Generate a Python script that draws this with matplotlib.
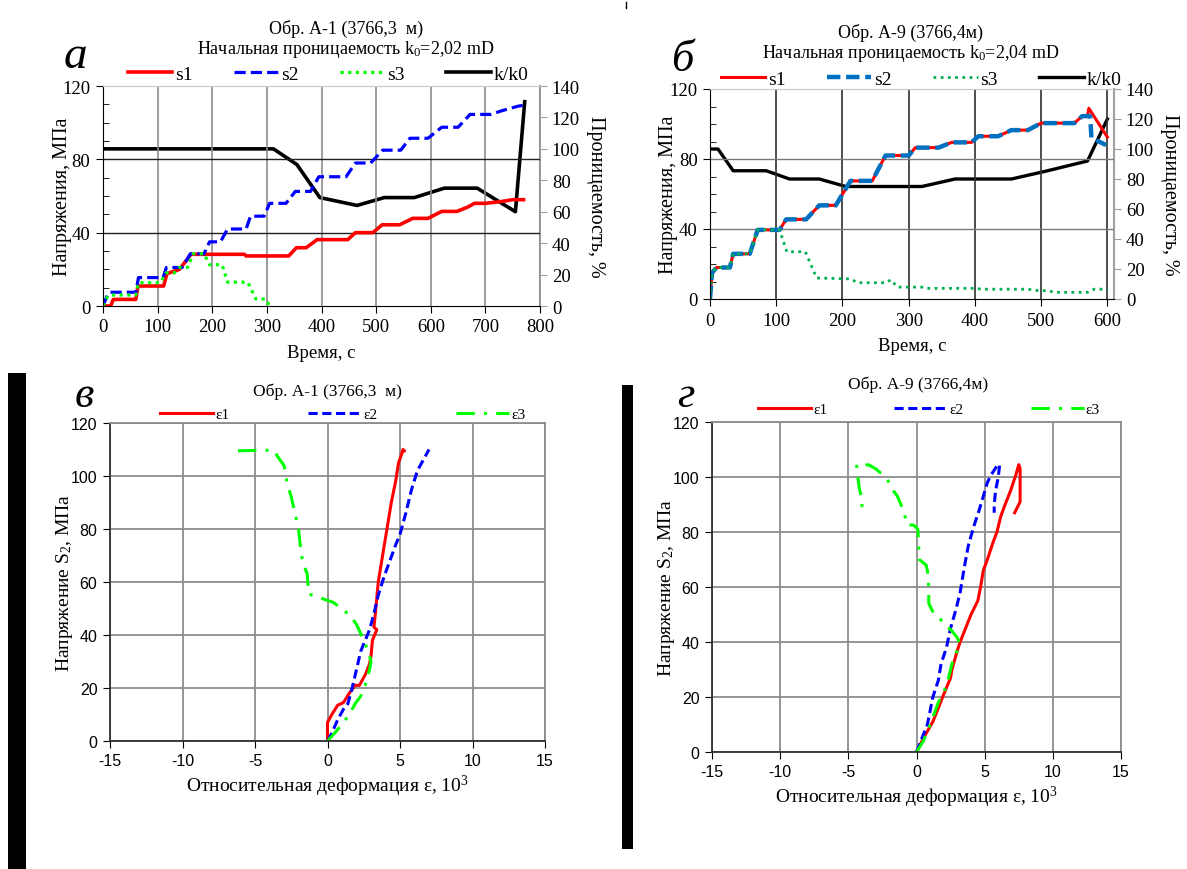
import matplotlib
matplotlib.use("Agg")
import matplotlib.pyplot as plt
from matplotlib.lines import Line2D
from matplotlib.patches import Rectangle
from matplotlib.ticker import MultipleLocator

plt.rcParams["font.family"] = ["Liberation Serif", "DejaVu Serif"]
plt.rcParams["mathtext.fontset"] = "custom"
plt.rcParams["mathtext.rm"] = "Liberation Serif"
plt.rcParams["mathtext.it"] = "Liberation Serif:italic"
plt.rcParams["axes.unicode_minus"] = False

W, H = 1187, 870

# --- panel a: sample A-1, stresses and permeability vs time ---
a_t_s1 = [0, 14, 19, 60, 64, 111, 117, 140, 161, 259, 262, 340, 354, 372, 392, 448, 462, 494,
          511, 543, 567, 595, 620, 648, 668, 680, 700, 730, 750, 770]
a_s1 = [0, 0, 3.6, 3.6, 10.9, 10.9, 17.6, 20, 28.2, 28.2, 27.3, 27.3, 31.8, 31.8, 36.2, 36.2, 40, 40,
        44.3, 44.3, 47.8, 47.8, 51.6, 51.6, 54, 56, 56, 57, 58, 58]
a_t_s2 = [0, 8, 12, 60, 65, 110, 116, 145, 160, 185, 195, 215, 228, 262, 270, 295, 305, 335, 352,
          380, 395, 445, 462, 490, 512, 545, 562, 595, 620, 650, 672, 710, 730, 760, 770]
a_s2 = [0, 6, 7.5, 7.5, 15.5, 15.5, 21, 21, 28.5, 28.5, 35, 35, 42, 42, 49, 49, 56, 56, 62.5,
        62.5, 70.5, 70.5, 78, 78, 85, 85, 91.5, 91.5, 97.5, 97.5, 104.5, 104.5, 106.5, 109, 109.5]
a_t_s3 = [0, 8, 12, 60, 65, 105, 115, 130, 140, 155, 165, 185, 195, 218, 228, 265, 280, 298, 305]
a_s3 = [0, 5, 6, 6, 12.7, 12.7, 18, 18, 21, 21, 28.5, 28.5, 22.5, 22.5, 13, 13, 3.8, 3.8, 0]
a_t_k = [0, 312, 355, 397, 465, 515, 570, 625, 685, 755, 772]
a_k = [100, 100, 90, 69, 64, 69, 69, 75, 75, 60, 130]

# --- panel b: sample A-9 ---
b_t_s = [0, 3, 10, 30, 35, 60, 72, 105, 115, 145, 165, 190, 197, 205, 212, 245, 265, 300, 310,
         345, 365, 395, 405, 435, 455, 480, 500, 550, 562, 570]
b_s = [0, 15, 18, 18, 25.8, 25.8, 39.5, 39.5, 45.5, 45.5, 53.5, 53.5, 58, 63, 67.5, 67.5, 82, 82,
       86.5, 86.5, 89.5, 89.5, 93, 93, 96.5, 96.5, 100.5, 100.5, 104.5, 104.5]
b_t_s1_end = [572, 600]
b_s1_end = [109, 92.5]
b_t_s2_end = [574, 576, 598]
b_s2_end = [104.5, 92, 88]
b_t_s3 = [0, 3, 10, 30, 35, 60, 72, 105, 116, 144, 161, 212, 223, 266, 273, 283, 320, 325, 400,
          410, 480, 495, 510, 520, 570, 580, 600]
b_s3 = [0, 15, 18, 18, 25.8, 25.8, 39.5, 39.5, 27, 27, 12, 11.5, 9.3, 9.3, 11, 6.8, 6.8, 6.1, 6.1,
        5.6, 5.6, 4.8, 4.8, 3.8, 3.8, 5.6, 5.6]
b_t_k = [0, 12, 35, 85, 120, 165, 205, 320, 370, 455, 505, 570, 600]
b_k = [100, 100, 85.5, 85.5, 80, 80, 75, 75, 80, 80, 85, 92, 120]

# --- panel v: A-1 strains ---
v_e1 = [0, 0, 0.3, 0.7, 1.1, 1.5, 1.9, 2.2, 2.6, 2.9, 3.0, 3.1, 3.4, 3.2, 3.3, 3.5, 3.8, 4.1,
        4.4, 4.7, 4.9, 5.1, 5.2, 5.3]
v_s1 = [0, 7, 10, 13.5, 14.5, 18, 21, 21, 25, 29, 32, 38, 42, 43, 48, 60, 70, 80, 90, 98, 105,
        108, 110, 109.5]
v_e2 = [0, 0.3, 0.7, 1.1, 1.4, 1.7, 2.0, 2.3, 2.6, 2.9, 3.2, 3.5, 3.9, 4.3, 4.7, 5.0, 5.4, 5.8,
        6.2, 6.6, 7.0]
v_s2 = [0, 3, 8, 12, 14, 20, 27, 34, 38, 42, 48, 55, 62, 68, 74, 78, 86, 95, 102, 106, 110]
v_e3 = [0, 0.5, 1.1, 1.5, 1.9, 2.3, 2.6, 2.9, 3.0, 2.8, 2.5, 2.0, 1.6, 1.2, 0.4, -0.5, -1.3,
        -1.4, -1.6, -1.8, -2.0, -2.2, -2.5, -2.8, -3.0, -3.4, -3.7, -4.6, -6.2]
v_s3 = [0, 3, 7, 10, 14, 17, 21, 27, 30, 34, 38, 44, 47, 49, 52.3, 54, 55.5, 63, 66, 70, 80, 85,
        92, 98, 104, 107, 109.7, 109.7, 109.5]

# --- panel g: A-9 strains ---
g_e1 = [0, 0.5, 1.2, 1.6, 2.0, 2.5, 2.6, 3.0, 3.2, 3.6, 4.0, 4.5, 4.7, 4.9, 5.2, 5.6, 5.9, 6.2,
        6.5, 6.9, 7.3, 7.5, 7.6, 7.6, 7.2]
g_s1 = [0, 5, 11, 16, 21, 27, 30, 37, 40, 45, 50, 55, 60, 66, 70, 76, 80, 86, 90, 95, 101, 104.5,
        103, 91, 87]
g_e2 = [0, 0.4, 0.8, 1.2, 1.6, 1.8, 2.2, 2.5, 2.9, 3.2, 3.5, 3.8, 4.2, 4.6, 4.9, 5.2, 5.5, 5.9,
        6.1, 6.0, 5.8, 5.7, 5.7]
g_s2 = [0, 5, 10, 20, 26, 32, 38, 45, 52, 58, 67, 75, 82, 88, 93, 98, 101, 104, 104.5, 100, 95,
        90, 87]
g_e3 = [0, 0.5, 1.0, 1.3, 1.6, 1.9, 2.2, 2.4, 2.6, 2.9, 3.2, 3.0, 2.6, 2.2, 1.8, 1.2, 0.9, 0.9,
        0.8, 0.7, 0.2, 0.15, 0.1, -0.2, -0.7, -0.8, -1.0, -1.1, -1.4, -1.7, -2.0, -2.4, -3.0,
        -3.5, -4.1, -4.4, -4.3, -4.2, -4.0, -4.0]
g_s3 = [0, 4, 10, 14, 18, 21, 24, 28, 32, 36, 39, 41.5, 44, 46, 48, 51, 54, 60, 66, 68, 70, 76,
        81, 82.5, 82.6, 85, 88, 89.5, 93, 95, 98, 100.5, 103, 104.4, 104.5, 104.5, 100, 96, 92, 89]


def rect(left, top, right, bottom):
    return [left / W, 1 - bottom / H, (right - left) / W, (bottom - top) / H]


def fx(px):
    return px / W


def fy(py):
    return 1 - py / H


def time_panel(fig, box, xmax, xtick_max, vgrid_color, hgrid_color):
    ax = fig.add_axes(box)
    ax.set_xlim(0, xmax)
    ax.set_ylim(0, 120)
    ax.set_xticks(range(0, xtick_max + 1, 100))
    ax.yaxis.set_major_locator(MultipleLocator(40))
    ax.yaxis.set_minor_locator(MultipleLocator(10))
    ax.tick_params(axis="both", which="major", labelsize=13.5, direction="out", length=5, pad=4)
    ax.tick_params(axis="y", which="minor", direction="in", length=4)
    for v in range(100, xtick_max + 1, 100):
        ax.axvline(v, color=vgrid_color, lw=1.2, zorder=0)
    for v in (40, 80):
        ax.axhline(v, color=hgrid_color, lw=1.0, zorder=0)
    ax.spines["left"].set_color("black")
    ax.spines["bottom"].set_color("black")
    ax.spines["top"].set_color("#c8c8c8")
    ax.spines["right"].set_visible(False)

    axr = ax.twinx()
    axr.set_ylim(0, 140)
    axr.yaxis.set_major_locator(MultipleLocator(20))
    axr.tick_params(axis="y", labelsize=13.5, direction="out", length=5, color="#a0a0a0")
    for name in ("left", "top", "bottom"):
        axr.spines[name].set_visible(False)
    axr.spines["right"].set_color("#a0a0a0")
    axr.spines["right"].set_linewidth(1.5)
    return ax, axr


def strain_panel(fig, box):
    ax = fig.add_axes(box)
    ax.set_xlim(-15, 15)
    ax.set_ylim(0, 120)
    ax.xaxis.set_major_locator(MultipleLocator(5))
    ax.yaxis.set_major_locator(MultipleLocator(20))
    ax.grid(True, color="#8c8c8c", lw=1.3)
    ax.set_axisbelow(True)
    ax.tick_params(axis="both", labelsize=11.5, direction="out", length=5, pad=4)
    for lab in ax.get_xticklabels() + ax.get_yticklabels():
        lab.set_family("Liberation Sans")
    for name in ("left", "bottom"):
        ax.spines[name].set_color("#303030")
        ax.spines[name].set_linewidth(1.3)
    for name in ("top", "right"):
        ax.spines[name].set_color("#8c8c8c")
        ax.spines[name].set_linewidth(1.3)
    return ax


fig = plt.figure(figsize=(W / 100, H / 100), dpi=100)

# panel a
ax, axr = time_panel(fig, rect(103, 87, 540, 307), 800, 800, "#8c8c8c", "#202020")
h1, = ax.plot(a_t_s1, a_s1, color="#ff0000", lw=2.6, label="s1")
h2, = ax.plot(a_t_s2, a_s2, color="#0000ff", lw=2.3, ls=(0, (3.5, 1.6)), label="s2")
h3, = ax.plot(a_t_s3, a_s3, color="#00ff00", lw=2.3, ls=(0, (1, 1.4)), label="s3")
hk, = axr.plot(a_t_k, a_k, color="black", lw=2.6, label="k/k0")
ax.set_zorder(axr.get_zorder() + 1)
ax.patch.set_visible(False)
ax.set_ylabel("Напряжения, МПа", fontsize=14.5, labelpad=-7)
axr.set_ylabel("Проницаемость, %", fontsize=14.5, rotation=270, labelpad=18)
ax.set_xlabel("Время, с", fontsize=13.5, labelpad=6)
fig.legend([h1, h2, h3, hk], ["s1", "s2", "s3", "k/k0"], loc="center",
           bbox_to_anchor=(fx(328), fy(75)), ncol=4, frameon=False, fontsize=14,
           handlelength=2.3, handletextpad=0.15, columnspacing=2.1)
fig.text(fx(346), fy(29), "Обр. А-1 (3766,3  м)", ha="center", va="center", fontsize=13)
fig.text(fx(346), fy(49), "Начальная проницаемость k$_0$=2,02 mD", ha="center", va="center",
         fontsize=13)
fig.text(fx(75), fy(57), "а", ha="center", va="center", fontsize=34, style="italic")

# panel b
ax, axr = time_panel(fig, rect(710, 90, 1114, 300), 610, 600, "#303030", "#7a7a7a")
ax.plot(b_t_s + b_t_s1_end, b_s + b_s1_end, color="#ff0000", lw=2.2, label="s1")
ax.plot(b_t_s + b_t_s2_end, b_s + b_s2_end, color="#0070c0", lw=3.2, ls=(0, (3, 1.3)),
        label="s2")
ax.plot(b_t_s3, b_s3, color="#00b050", lw=2.0, ls=(0, (1, 1.6)), label="s3")
axr.plot(b_t_k, b_k, color="black", lw=2.4, label="k/k0")
ax.set_zorder(axr.get_zorder() + 1)
ax.patch.set_visible(False)
ax.set_ylabel("Напряжения, МПа", fontsize=14.5, labelpad=-6)
axr.set_ylabel("Проницаемость, %", fontsize=14.5, rotation=270, labelpad=18)
ax.set_xlabel("Время, с", fontsize=13.5, labelpad=6)
hb = ax.get_lines()[-3:] + axr.get_lines()
fig.legend(hb, ["s1", "s2", "s3", "k/k0"], loc="center",
           bbox_to_anchor=(fx(921), fy(80)), ncol=4, frameon=False, fontsize=14,
           handlelength=2.3, handletextpad=0.15, columnspacing=2.1)
fig.text(fx(911), fy(33), "Обр. А-9 (3766,4м)", ha="center", va="center", fontsize=13)
fig.text(fx(911), fy(53), "Начальная проницаемость k$_0$=2,04 mD", ha="center", va="center",
         fontsize=13)
fig.text(fx(682), fy(60), "б", ha="center", va="center", fontsize=32, style="italic")

# panel v
ax = strain_panel(fig, rect(110, 424, 545, 742))
e1, = ax.plot(v_e1, v_s1, color="#ff0000", lw=2.2)
e2, = ax.plot(v_e2, v_s2, color="#0000ff", lw=2.2, ls=(0, (3, 1.5)))
e3, = ax.plot(v_e3, v_s3, color="#00ff00", lw=2.2, ls=(0, (6, 3, 1, 3)))
ax.set_ylabel("Напряжение S$_2$, МПа", fontsize=14, labelpad=-3)
ax.set_xlabel("Относительная деформация ε, 10$^3$", fontsize=14, labelpad=3)
fig.legend([e1, e2, e3], ["ε1", "ε2", "ε3"], loc="lower left",
           bbox_to_anchor=(fx(160), fy(422), fx(525) - fx(160), fy(404) - fy(422)),
           mode="expand", ncol=3, frameon=False, fontsize=11, handlelength=3.5,
           handletextpad=0.1, borderaxespad=0, borderpad=0)
fig.text(fx(327), fy(392), "Обр. А-1 (3766,3  м)", ha="center", va="center", fontsize=12.5)
fig.text(fx(84), fy(396), "в", ha="center", va="center", fontsize=32, style="italic")

# panel g
ax = strain_panel(fig, rect(712, 423, 1121, 753))
e1, = ax.plot(g_e1, g_s1, color="#ff0000", lw=2.2)
e2, = ax.plot(g_e2, g_s2, color="#0000ff", lw=2.2, ls=(0, (3, 1.5)))
e3, = ax.plot(g_e3, g_s3, color="#00ff00", lw=2.2, ls=(0, (6, 3, 1, 3)))
ax.set_ylabel("Напряжение S$_2$, МПа", fontsize=14, labelpad=-3)
ax.set_xlabel("Относительная деформация ε, 10$^3$", fontsize=14, labelpad=3)
fig.legend([e1, e2, e3], ["ε1", "ε2", "ε3"], loc="lower left",
           bbox_to_anchor=(fx(758), fy(417), fx(1100) - fx(758), fy(399) - fy(417)),
           mode="expand", ncol=3, frameon=False, fontsize=11, handlelength=3.5,
           handletextpad=0.1, borderaxespad=0, borderpad=0)
fig.text(fx(918), fy(385), "Обр. А-9 (3766,4м)", ha="center", va="center", fontsize=12.5)
fig.text(fx(686), fy(396), "г", ha="center", va="center", fontsize=32, style="italic")

# vertical black bars at the left of the lower panels
fig.add_artist(Rectangle((fx(8), fy(870)), fx(18), fy(374) - fy(870),
                         transform=fig.transFigure, color="black", lw=0))
fig.add_artist(Rectangle((fx(622), fy(850)), fx(11), fy(386) - fy(850),
                         transform=fig.transFigure, color="black", lw=0))
fig.add_artist(Line2D([fx(626), fx(626)], [fy(3), fy(9)], transform=fig.transFigure,
                      color="black", lw=1))

fig.savefig("out.png", dpi=100)
